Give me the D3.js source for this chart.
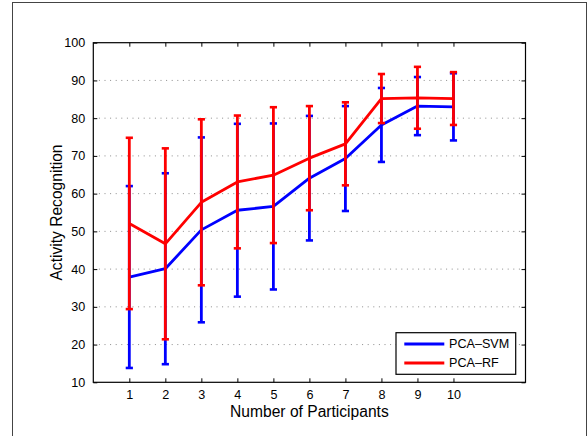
<!DOCTYPE html>
<html>
<head>
<meta charset="utf-8">
<script src="https://cdn.jsdelivr.net/npm/d3@7"></script>
<style>
body { margin: 0; background: #fff; }
text { font-family: "Liberation Sans", Arial, Helvetica, sans-serif; fill: #000; }
</style>
</head>
<body>
<div id="chart"></div>
<script>
var svgWidth = 587;
var svgHeight = 436;

// data
var participants = [1, 2, 3, 4, 5, 6, 7, 8, 9, 10];
var svmMean = [37.9, 40.1, 50.4, 55.6, 56.6, 64.1, 69.3, 78.2, 83.2, 83.0];
var svmErr = [24.1, 25.3, 24.5, 22.9, 22.0, 16.5, 13.9, 9.8, 7.7, 8.9];
var rfMean = [52.1, 46.7, 57.7, 63.1, 64.9, 69.4, 73.2, 85.2, 85.4, 85.2];
var rfErr = [22.7, 25.3, 22.0, 17.6, 18.0, 13.8, 11.0, 6.5, 8.2, 7.0];
var yTicks = [10, 20, 30, 40, 50, 60, 70, 80, 90, 100];
var seriesNames = ["PCA\u2013SVM", "PCA\u2013RF"];
var seriesColors = ["#0000ff", "#ff0000"];

var margin = { top: 42.7, left: 93.3, right: 61.5, bottom: 53.7 };
var width = svgWidth - margin.left - margin.right;
var height = svgHeight - margin.top - margin.bottom;

var svg = d3.select("#chart")
  .append("svg")
  .attr("width", svgWidth)
  .attr("height", svgHeight);

// figure frame
svg.append("rect")
  .attr("x", 12.5).attr("y", 2.5)
  .attr("width", 574).attr("height", 500)
  .attr("fill", "none")
  .attr("stroke", "#444")
  .attr("stroke-width", 1);

var chartGroup = svg.append("g")
  .attr("transform", `translate(${margin.left}, ${margin.top})`);

var xScale = d3.scaleLinear().domain([0, 12]).range([0, width]);
var yScale = d3.scaleLinear().domain([10, 100]).range([height, 0]);

// dotted horizontal grid
chartGroup.append("g")
  .selectAll("line")
  .data(yTicks.filter(d => d > 10 && d < 100))
  .enter()
  .append("line")
  .attr("x1", 0).attr("x2", width)
  .attr("y1", d => yScale(d)).attr("y2", d => yScale(d))
  .attr("stroke", "#8c8c8c")
  .attr("stroke-width", 1)
  .attr("stroke-dasharray", "1,4.6");

// axes, ticks pointing inward on all four sides
var bottomAxis = d3.axisBottom(xScale).tickValues(participants).tickSize(-4).tickPadding(8);
var topAxis = d3.axisTop(xScale).tickValues(participants).tickSize(-4).tickFormat("");
var leftAxis = d3.axisLeft(yScale).tickValues(yTicks).tickSize(-4).tickPadding(8);
var rightAxis = d3.axisRight(yScale).tickValues(yTicks).tickSize(-4).tickFormat("");

var axes = [
  chartGroup.append("g").attr("transform", `translate(0, ${height})`).call(bottomAxis),
  chartGroup.append("g").call(topAxis),
  chartGroup.append("g").call(leftAxis),
  chartGroup.append("g").attr("transform", `translate(${width}, 0)`).call(rightAxis)
];
axes.forEach(function(a) {
  a.select(".domain").remove();
  a.selectAll("line").attr("stroke", "#000").attr("stroke-width", 1);
  a.selectAll("text").style("font-size", "12.6px").attr("fill", "#000");
});

chartGroup.append("rect")
  .attr("width", width).attr("height", height)
  .attr("fill", "none")
  .attr("stroke", "#000")
  .attr("stroke-width", 1.2);

// series
var series = [
  { name: seriesNames[0], color: seriesColors[0], mean: svmMean, err: svmErr },
  { name: seriesNames[1], color: seriesColors[1], mean: rfMean, err: rfErr }
];

var line = d3.line()
  .x((d, i) => xScale(participants[i]))
  .y(d => yScale(d));

series.forEach(function(s) {
  var g = chartGroup.append("g");
  var pts = participants.map((p, i) => ({ x: p, m: s.mean[i], e: s.err[i] }));

  g.append("path")
    .datum(s.mean)
    .attr("d", line)
    .attr("fill", "none")
    .attr("stroke", s.color)
    .attr("stroke-width", 2.8)
    .attr("stroke-linejoin", "round");

  g.selectAll(".bar")
    .data(pts)
    .enter()
    .append("line")
    .attr("x1", d => xScale(d.x)).attr("x2", d => xScale(d.x))
    .attr("y1", d => yScale(d.m - d.e)).attr("y2", d => yScale(d.m + d.e))
    .attr("stroke", s.color)
    .attr("stroke-width", 2.8);

  [-1, 1].forEach(function(sign) {
    g.selectAll(".cap" + sign)
      .data(pts)
      .enter()
      .append("line")
      .attr("x1", d => xScale(d.x) - 3.6).attr("x2", d => xScale(d.x) + 3.6)
      .attr("y1", d => yScale(d.m + sign * d.e)).attr("y2", d => yScale(d.m + sign * d.e))
      .attr("stroke", s.color)
      .attr("stroke-width", 2.6);
  });
});

// legend
var legend = svg.append("g").attr("transform", "translate(396, 332.7)");
legend.append("rect")
  .attr("width", 119.7).attr("height", 41.6)
  .attr("fill", "#fff")
  .attr("stroke", "#000")
  .attr("stroke-width", 1.2);
series.forEach(function(s, i) {
  var y = 11.3 + i * 19;
  legend.append("line")
    .attr("x1", 8.3).attr("x2", 48.3)
    .attr("y1", y).attr("y2", y)
    .attr("stroke", s.color)
    .attr("stroke-width", 2.8);
  legend.append("text")
    .attr("x", 53)
    .attr("y", y + 4.5)
    .style("font-size", "12.6px")
    .text(s.name);
});

// axis labels
svg.append("text")
  .attr("x", margin.left + width / 2)
  .attr("y", 417)
  .attr("text-anchor", "middle")
  .style("font-size", "15.6px")
  .text("Number of Participants");

svg.append("text")
  .attr("transform", `translate(62.3, ${margin.top + height / 2}) rotate(-90)`)
  .attr("text-anchor", "middle")
  .style("font-size", "15.6px")
  .text("Activity Recognition");
</script>
</body>
</html>
